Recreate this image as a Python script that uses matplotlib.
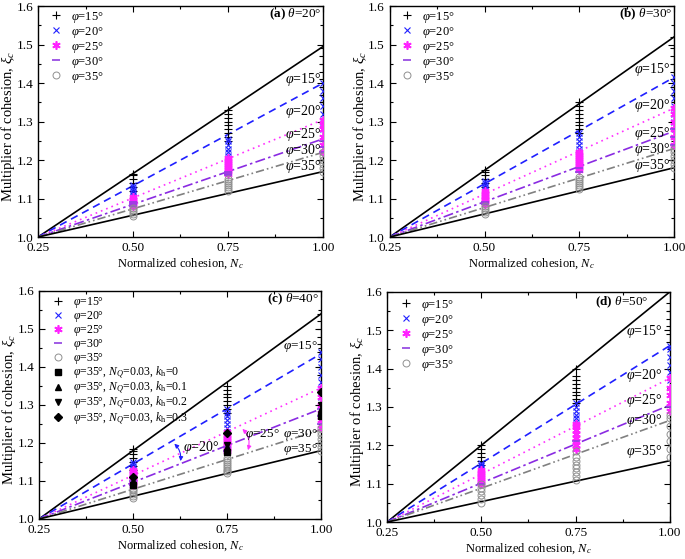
import matplotlib
matplotlib.use("Agg")
import matplotlib.pyplot as plt
from matplotlib.ticker import MultipleLocator, FormatStrFormatter

plt.rcParams['font.family'] = ['Liberation Serif', 'DejaVu Serif']
plt.rcParams['mathtext.fontset'] = 'custom'
plt.rcParams['mathtext.rm'] = 'Liberation Serif'
plt.rcParams['mathtext.it'] = 'Liberation Serif:italic'
plt.rcParams['mathtext.bf'] = 'Liberation Serif:bold'

# ---------------- data ----------------
nc_levels = [0.5, 0.75, 1.0]
phis = [15, 20, 25, 30, 35]
thetas = [20, 30, 40, 50]
panel_tags = ['(a)', '(b)', '(c)', '(d)']

# fitted lines: value at Nc = 1.0 (all lines start at Nc=0.25, xi=1.0)
end_upper = [1.495, 1.52, 1.54, 1.60]
end_p15 = [1.40, 1.415, 1.435, 1.46]
end_p20 = [1.305, 1.335, 1.345, 1.375]
end_p25 = [1.255, 1.275, 1.29, 1.305]
end_p30 = [1.22, 1.23, 1.235, 1.265]
end_lower = [1.17, 1.18, 1.18, 1.16]

# scatter points, per panel: phi -> (values at 0.5, values at 0.75, values at 1.0)
pts_a = {
    15: ([1.12, 1.13, 1.14, 1.15, 1.16, 1.165],
         [1.25, 1.26, 1.27, 1.28, 1.29, 1.30, 1.31, 1.32, 1.33],
         [1.35, 1.37, 1.39, 1.41, 1.43, 1.45, 1.47, 1.49]),
    20: ([1.105, 1.11, 1.115, 1.12, 1.125, 1.13, 1.135],
         [1.20, 1.21, 1.22, 1.23, 1.24, 1.25, 1.255],
         [1.28, 1.30, 1.32, 1.34, 1.36, 1.38, 1.40]),
    25: ([1.08, 1.085, 1.09, 1.095, 1.10, 1.105],
         [1.165, 1.17, 1.175, 1.18, 1.185, 1.19, 1.195, 1.20, 1.205],
         [1.22, 1.24, 1.26, 1.28, 1.29, 1.305]),
    30: ([1.08, 1.085, 1.09], [1.16, 1.165, 1.17], [1.22, 1.235, 1.25]),
    35: ([1.055, 1.06, 1.065, 1.07, 1.075],
         [1.12, 1.125, 1.13, 1.135, 1.14, 1.145, 1.15],
         [1.17, 1.18, 1.19, 1.20, 1.21, 1.22]),
}
pts_b = {
    15: ([1.13, 1.14, 1.15, 1.16, 1.17, 1.175],
         [1.27, 1.28, 1.29, 1.30, 1.31, 1.32, 1.33, 1.34, 1.35],
         [1.37, 1.39, 1.41, 1.43, 1.45, 1.47, 1.49, 1.52]),
    20: ([1.11, 1.115, 1.12, 1.125, 1.13, 1.135, 1.14, 1.145],
         [1.21, 1.22, 1.23, 1.24, 1.25, 1.26, 1.27],
         [1.30, 1.32, 1.34, 1.36, 1.38, 1.40, 1.415]),
    25: ([1.085, 1.09, 1.095, 1.10, 1.105, 1.11, 1.115, 1.12],
         [1.175, 1.18, 1.185, 1.19, 1.195, 1.20, 1.205, 1.21, 1.215, 1.22],
         [1.24, 1.26, 1.28, 1.30, 1.32, 1.335]),
    30: ([1.085, 1.09], [1.17, 1.18], [1.24, 1.26, 1.28]),
    35: ([1.06, 1.065, 1.07, 1.075, 1.08],
         [1.125, 1.13, 1.135, 1.14, 1.145, 1.15, 1.155],
         [1.18, 1.19, 1.20, 1.21, 1.22, 1.23]),
}
pts_c = {
    15: ([1.13, 1.14, 1.15, 1.16, 1.17, 1.18, 1.185],
         [1.28, 1.29, 1.30, 1.31, 1.32, 1.33, 1.34, 1.35],
         [1.38, 1.40, 1.42, 1.44, 1.46, 1.48, 1.50, 1.52, 1.54]),
    20: ([1.11, 1.115, 1.12, 1.125, 1.13, 1.135, 1.14, 1.145, 1.15],
         [1.21, 1.22, 1.23, 1.24, 1.25, 1.26, 1.27, 1.28, 1.29],
         [1.30, 1.32, 1.34, 1.36, 1.38, 1.40, 1.42, 1.44]),
    25: ([1.09, 1.095, 1.10, 1.105, 1.11, 1.115, 1.12, 1.125, 1.13],
         [1.18, 1.185, 1.19, 1.195, 1.20, 1.205, 1.21, 1.215, 1.22, 1.23],
         [1.24, 1.26, 1.28, 1.30, 1.32, 1.345]),
    30: ([1.09, 1.10], [1.18, 1.19], [1.25, 1.27, 1.29]),
    35: ([1.055, 1.06, 1.065, 1.07, 1.075, 1.08],
         [1.12, 1.125, 1.13, 1.135, 1.14, 1.145, 1.15, 1.155, 1.16],
         [1.18, 1.19, 1.20, 1.21, 1.22, 1.23, 1.24]),
}
pts_d = {
    15: ([1.15, 1.16, 1.17, 1.18, 1.19, 1.20],
         [1.31, 1.32, 1.33, 1.34, 1.35, 1.36, 1.37, 1.38, 1.40],
         [1.47, 1.49, 1.51, 1.53, 1.55, 1.57, 1.60]),
    20: ([1.13, 1.135, 1.14, 1.145, 1.15, 1.155],
         [1.26, 1.27, 1.28, 1.29, 1.30, 1.31],
         [1.37, 1.39, 1.41, 1.43, 1.45, 1.46]),
    25: ([1.10, 1.105, 1.11, 1.115, 1.12, 1.125, 1.13, 1.135],
         [1.19, 1.20, 1.21, 1.22, 1.23, 1.24, 1.25, 1.255],
         [1.29, 1.31, 1.33, 1.35, 1.375]),
    30: ([1.10], [1.21], [1.30]),
    35: ([1.05, 1.06, 1.07, 1.08, 1.09, 1.10],
         [1.11, 1.12, 1.13, 1.14, 1.15, 1.16, 1.17, 1.185],
         [1.17, 1.19, 1.21, 1.23, 1.25, 1.27, 1.28]),
}
panel_pts = [pts_a, pts_b, pts_c, pts_d]

# extra points in panel (c): phi=35, N_Q=0.03, k_h = 0, 0.1, 0.2, 0.3
kh_values = [0, 0.1, 0.2, 0.3]
kh_pts = {
    0:   ([1.09], [1.175], [1.27]),
    0.1: ([1.10], [1.19], [1.29]),
    0.2: ([1.105], [1.195], [1.30]),
    0.3: ([1.11], [1.225], [1.335]),
}

# right-side line labels (y positions) per panel
label_y = [
    [1.41, 1.326, 1.266, 1.225, 1.182],
    [1.436, 1.342, 1.269, 1.228, 1.185],
    [1.453, None, None, 1.222, 1.182],
    [1.496, 1.383, 1.316, 1.266, 1.183],
]

# ---------------- styles ----------------
marker_style = {
    15: dict(marker='+', color='black', ms=6, mew=0.8, mfc='none'),
    20: dict(marker='x', color='#2020ff', ms=5, mew=0.8, mfc='none'),
    25: dict(marker=(6, 2, 0), color='#ff22ff', ms=6, mew=1.2, mfc='none'),
    30: dict(marker='_', color='#9040e0', ms=6, mew=1.2, mfc='none'),
    35: dict(marker='o', color='#909090', ms=5, mew=0.7, mfc='none'),
}
kh_markers = {0: 's', 0.1: '^', 0.2: 'v', 0.3: 'D'}

line_styles = [
    ('upper', 'black', None),
    ('p15', '#2020ff', (4.5, 3)),
    ('p20', '#ff30ff', (1, 2.4)),
    ('p25', '#8a2be2', (6, 2, 1.5, 2)),
    ('p30', '#808080', (5, 1.8, 1, 1.8, 1, 1.8)),
    ('lower', 'black', None),
]
ends = {'upper': end_upper, 'p15': end_p15, 'p20': end_p20,
        'p25': end_p25, 'p30': end_p30, 'lower': end_lower}

fig = plt.figure(figsize=(6.85, 5.59), dpi=100)
positions = [
    [0.0555, 0.576, 0.416, 0.413],
    [0.569, 0.576, 0.415, 0.413],
    [0.057, 0.0716, 0.412, 0.408],
    [0.565, 0.066, 0.413, 0.412],
]
title_pos = [(0.995, 0.965), (0.995, 0.965), (0.99, 0.965), (0.925, 0.955)]
label_x = [0.995, 0.99, 0.99, 0.98]
label_fs = [10, 10, 9.5, 10]
legend_anchor = [(0.03, 0.985), (0.026, 0.985), (0.034, 0.98), (0.033, 0.975)]

for i in range(4):
    ax = fig.add_axes(positions[i])
    pts = panel_pts[i]
    handles = []
    for phi in phis:
        xs, ys = [], []
        for j, nc in enumerate(nc_levels):
            for v in pts[phi][j]:
                xs.append(nc)
                ys.append(v)
        st = marker_style[phi]
        h, = ax.plot(xs, ys, linestyle='none', marker=st['marker'], color=st['color'],
                     markersize=st['ms'], markeredgewidth=st['mew'], markerfacecolor=st['mfc'],
                     label=r'$\varphi$=%d°' % phi, zorder=3)
        handles.append(h)
    if i == 2:
        for kh in kh_values:
            xs, ys = [], []
            for j, nc in enumerate(nc_levels):
                for v in kh_pts[kh][j]:
                    xs.append(nc)
                    ys.append(v)
            h, = ax.plot(xs, ys, linestyle='none', marker=kh_markers[kh], color='black',
                         markersize=4.5 if kh_markers[kh] != 'D' else 4,
                         label=r'$\varphi$=35°, $N_Q$=0.03, $k_\mathrm{h}$=%s' % kh, zorder=4)
            handles.append(h)

    for key, col, dash in line_styles:
        ln, = ax.plot([0.25, 1.0], [1.0, ends[key][i]], color=col, lw=1.2, zorder=2)
        if dash is not None:
            ln.set_dashes(dash)

    ax.set_xlim(0.25, 1.0)
    ax.set_ylim(1.0, 1.6)
    ax.xaxis.set_major_locator(MultipleLocator(0.25))
    ax.xaxis.set_minor_locator(MultipleLocator(0.125))
    ax.yaxis.set_major_locator(MultipleLocator(0.1))
    ax.yaxis.set_minor_locator(MultipleLocator(0.05))
    ax.xaxis.set_major_formatter(FormatStrFormatter('%.2f'))
    ax.yaxis.set_major_formatter(FormatStrFormatter('%.1f'))
    ax.tick_params(which='both', direction='in', top=True, right=True, labelsize=9.5)
    ax.tick_params(which='major', length=4, width=0.8)
    ax.tick_params(which='minor', length=2, width=0.8)
    for sp in ax.spines.values():
        sp.set_linewidth(1.0)
    ax.set_xlabel(r'Normalized cohesion, $N_c$', fontsize=9, labelpad=2)
    ax.set_ylabel(r'Multiplier of cohesion, $\xi_c$', fontsize=10.5)
    ax.yaxis.set_label_coords(-0.073, 0.48)

    if i == 2:
        ax.legend(handles=handles, loc='upper left', frameon=False, fontsize=8.5,
                  handletextpad=0.47, labelspacing=-0.1, borderaxespad=0.0, borderpad=0.0,
                  handlelength=1.6, bbox_to_anchor=legend_anchor[i])
    else:
        ax.legend(handles=handles, loc='upper left', frameon=False, fontsize=9,
                  handletextpad=0.45, labelspacing=0.0, borderaxespad=0.0, borderpad=0.0,
                  handlelength=1.5, bbox_to_anchor=legend_anchor[i])

    ax.text(title_pos[i][0], title_pos[i][1],
            r'$\mathbf{%s}$ $\theta$=%d°' % (panel_tags[i], thetas[i]),
            transform=ax.transAxes, ha='right', va='center', fontsize=9.5)

    for k, phi in enumerate(phis):
        yv = label_y[i][k]
        if yv is None:
            continue
        ax.text(label_x[i], yv, r'$\varphi$=%d°' % phi, ha='right', va='center',
                fontsize=label_fs[i], zorder=5)

    if i == 2:
        ax.annotate('', xy=(0.625, 1.145), xytext=(0.604, 1.203),
                    arrowprops=dict(arrowstyle='<|-|>', color='#2020ff', lw=0.8,
                                    mutation_scale=6, connectionstyle='arc3,rad=-0.3'))
        ax.text(0.633, 1.187, r'$\varphi$=20°', ha='left', va='center', fontsize=10)
        ax.annotate('', xy=(0.803, 1.174), xytext=(0.785, 1.242),
                    arrowprops=dict(arrowstyle='<|-|>', color='#ff30ff', lw=0.8,
                                    mutation_scale=6, connectionstyle='arc3,rad=-0.35'))
        ax.text(0.796, 1.223, r'$\varphi$=25°', ha='left', va='center', fontsize=9.5)

fig.savefig('out.png', dpi=100)
